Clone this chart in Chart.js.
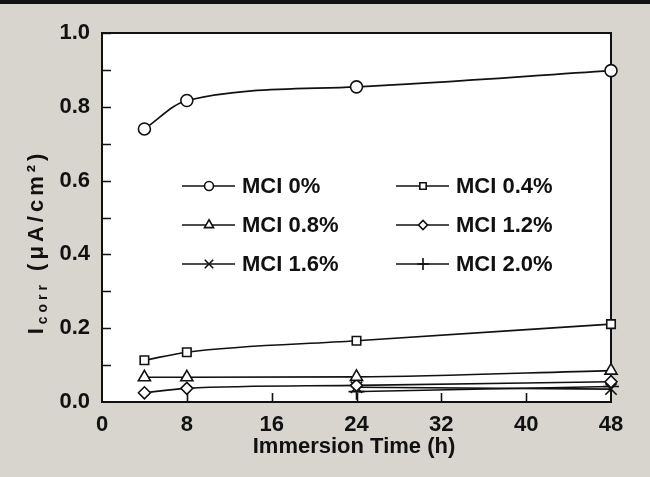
<!DOCTYPE html>
<html>
<head>
<meta charset="utf-8">
<title>Icorr vs immersion time</title>
<script src="https://cdn.jsdelivr.net/npm/chart.js@4.4.1/dist/chart.umd.min.js"></script>
<style>
  html, body { margin: 0; padding: 0; background: #d7d5cd; }
  canvas { display: block; }
</style>
</head>
<body>
<canvas id="myChart" width="650" height="477"></canvas>
<script>
'use strict';

// immersion times (h)
const times = [4, 8, 24, 48];
const labels = ['MCI 0%', 'MCI 0.4%', 'MCI 0.8%', 'MCI 1.2%', 'MCI 1.6%', 'MCI 2.0%'];
const mci0 = [0.740, 0.817, 0.854, 0.898];
const mci04 = [0.113, 0.135, 0.166, 0.211];
const mci08 = [0.067, 0.067, 0.068, 0.085];
const mci12 = [0.025, 0.037, 0.045, 0.055];
const mci16 = [null, null, 0.040, 0.035];
const mci20 = [null, null, 0.028, 0.042];
const yTicks = [0.0, 0.2, 0.4, 0.6, 0.8, 1.0];
const xTicks = [0, 8, 16, 24, 32, 40, 48];

const styles = ['circle', 'rect', 'triangle', 'rectRot', 'crossRot', 'cross'];
const radii = [6, 6, 7, 6, 8, 8];

function toPoints(values) {
  let pts = [];
  values.forEach(function(v, i) {
    if (v !== null) pts.push({x: times[i], y: v});
  });
  return pts;
}

const series = [mci0, mci04, mci08, mci12, mci16, mci20];
const datasets = series.map(function(s, i) {
  return {
    label: labels[i],
    data: toPoints(s),
    borderColor: '#111',
    borderWidth: 1.6,
    pointStyle: styles[i],
    pointRadius: radii[i],
    pointBackgroundColor: '#fff',
    pointBorderColor: '#111',
    pointBorderWidth: 1.6,
    cubicInterpolationMode: 'monotone',
    clip: false
  };
});

const family = '"Liberation Sans", Arial, sans-serif';
const font = 'bold 22px ' + family;

// page background, white plot area, frame and inside ticks
const framePlugin = {
  id: 'frame',
  beforeDraw(chart) {
    const ctx = chart.ctx, a = chart.chartArea;
    ctx.save();
    ctx.fillStyle = '#111';
    ctx.fillRect(0, 0, chart.width, 4);
    ctx.fillStyle = '#fff';
    ctx.fillRect(a.left, a.top, a.right - a.left, a.bottom - a.top);
    ctx.restore();
  },
  beforeDatasetsDraw(chart) {
    const ctx = chart.ctx, a = chart.chartArea;
    const xs = chart.scales.x, ys = chart.scales.y;
    ctx.save();
    ctx.strokeStyle = '#111';
    ctx.lineWidth = 2;
    ctx.strokeRect(a.left, a.top, a.right - a.left, a.bottom - a.top);
    ctx.lineWidth = 1.6;
    ctx.beginPath();
    for (let v = 0.1; v < 1.0; v += 0.1) {
      const y = Math.round(ys.getPixelForValue(v)) + 0.5;
      ctx.moveTo(a.left, y);
      ctx.lineTo(a.left + 9, y);
    }
    xTicks.slice(1, -1).forEach(function(t) {
      const x = Math.round(xs.getPixelForValue(t)) + 0.5;
      ctx.moveTo(x, a.bottom);
      ctx.lineTo(x, a.bottom - 9);
    });
    ctx.stroke();
    ctx.restore();
  },
  afterDraw(chart) {
    const ctx = chart.ctx;
    ctx.save();
    ctx.fillStyle = '#111';
    ctx.font = font;
    ctx.textAlign = 'center';
    ctx.textBaseline = 'middle';
    ctx.fillText('Immersion Time (h)', 354, 447);

    // y title with subscript, spaced out like the scan
    ctx.translate(37, 242);
    ctx.rotate(-Math.PI / 2);
    ctx.textAlign = 'left';
    ctx.letterSpacing = '4px';
    const subFont = 'bold 14px ' + family;
    const parts = [['I', font, 0], ['corr', subFont, 6], [' (\u03bcA/cm\u00b2)', font, 0]];
    let total = 0;
    parts.forEach(function(p) { ctx.font = p[1]; total += ctx.measureText(p[0]).width; });
    let x = -total / 2;
    parts.forEach(function(p) {
      ctx.font = p[1];
      ctx.fillText(p[0], x, p[2]);
      x += ctx.measureText(p[0]).width;
    });
    ctx.restore();
  }
};

// legend in two columns inside the plot
const legendPlugin = {
  id: 'innerLegend',
  afterDatasetsDraw(chart) {
    const ctx = chart.ctx;
    const colX = [182, 396];
    const rowY = [186, 225, 264];
    ctx.save();
    chart.data.datasets.forEach(function(ds, i) {
      const x = colX[i % 2], y = rowY[Math.floor(i / 2)];
      ctx.strokeStyle = '#111';
      ctx.lineWidth = 1.6;
      ctx.beginPath();
      ctx.moveTo(x, y);
      ctx.lineTo(x + 53, y);
      ctx.stroke();
      ctx.fillStyle = '#fff';
      Chart.helpers.drawPoint(ctx, {
        pointStyle: ds.pointStyle,
        radius: ds.pointRadius * 0.75,
        rotation: 0,
        borderWidth: 1.6
      }, x + 27, y);
      ctx.fillStyle = '#111';
      ctx.font = font;
      ctx.textAlign = 'left';
      ctx.textBaseline = 'middle';
      ctx.fillText(ds.label, x + 60, y + 1);
    });
    ctx.restore();
  }
};

const tickFont = { family: 'Liberation Sans', size: 22, weight: 'bold' };

const ctx = document.getElementById('myChart').getContext('2d');
const myChart = new Chart(ctx, {
  type: 'line',
  data: { datasets: datasets },
  options: {
    responsive: false,
    animation: false,
    layout: { padding: { left: 0, top: 33, right: 39, bottom: 0 } },
    plugins: {
      legend: { display: false },
      tooltip: { enabled: false }
    },
    scales: {
      x: {
        type: 'linear',
        min: 0,
        max: 48,
        afterFit: function(s) { s.height = 75; },
        afterBuildTicks: function(s) { s.ticks = xTicks.map(function(v) { return {value: v}; }); },
        grid: { display: false, drawTicks: false },
        border: { display: false },
        ticks: { color: '#111', font: tickFont, padding: 10, maxRotation: 0 }
      },
      y: {
        min: 0,
        max: 1,
        afterFit: function(s) { s.width = 102; },
        afterBuildTicks: function(s) { s.ticks = yTicks.map(function(v) { return {value: v}; }); },
        grid: { display: false, drawTicks: false },
        border: { display: false },
        ticks: {
          color: '#111',
          font: tickFont,
          padding: 12,
          callback: function(v) { return Number(v).toFixed(1); }
        }
      }
    }
  },
  plugins: [framePlugin, legendPlugin]
});
</script>
</body>
</html>
